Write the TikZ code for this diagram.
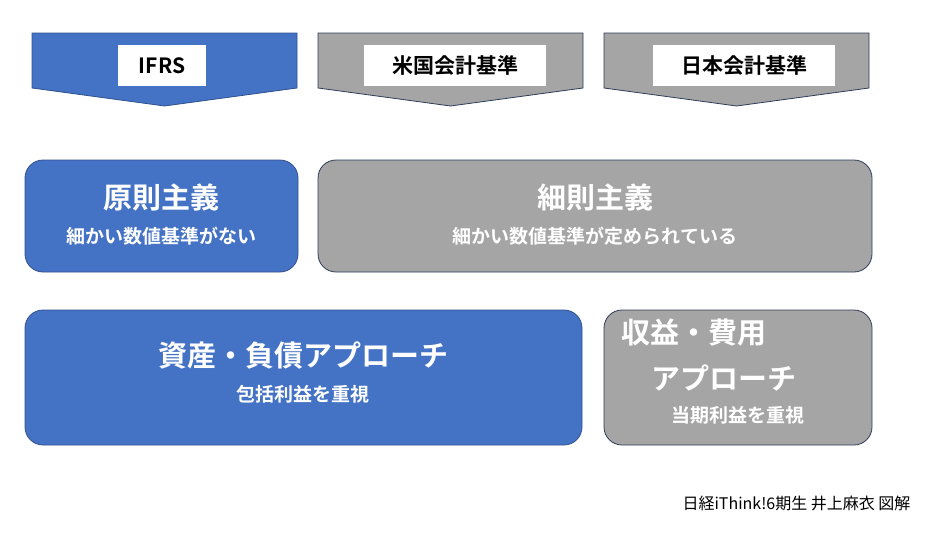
\documentclass[tikz,border=0pt]{standalone}
\usepackage{fontspec}
\setmainfont{Noto Sans CJK JP}
\newfontfamily\jpb{Noto Sans CJK JP Bold}
\begin{document}
\begin{tikzpicture}[x=1pt,y=-1pt,
  blu/.style={fill={rgb,255:red,68;green,114;blue,196},draw={rgb,255:red,47;green,82;blue,143},line width=0.8pt},
  gry/.style={fill={rgb,255:red,165;green,165;blue,165},draw={rgb,255:red,47;green,60;blue,90},line width=0.8pt},
  rbox/.style={rounded corners=18pt},
  lab/.style={fill=white,inner sep=0pt,font=\jpb\fontsize{21}{24}\selectfont,text=black},
  ttl/.style={font=\jpb\fontsize{29}{34}\selectfont,text=white},
  sub/.style={font=\jpb\fontsize{19}{22}\selectfont,text=white}]
\useasboundingbox (0,0) rectangle (943,533);
% chevrons
\foreach \x/\s in {32/blu,318/gry,604/gry}{
  \draw[\s] (\x,33) -- (\x+265,33) -- (\x+265,88) -- (\x+132.5,106) -- (\x,88) -- cycle;}
\node[lab,minimum width=88pt,minimum height=41pt] (l1) at (162,65.5) {IFRS};
\node[lab,minimum width=182pt,minimum height=41pt] (l2) at (455,65.5) {米国会計基準};
\node[lab,minimum width=182pt,minimum height=41pt] (l3) at (744,65.5) {日本会計基準};
% boxes
\draw[blu,rbox] (25,160) rectangle (298,272);
\node[ttl] (t1) at (161.5,197) {原則主義};
\node[sub] (s1) at (161.5,236) {細かい数値基準がない};
\draw[gry,rbox] (318,160) rectangle (872,272);
\node[ttl] (t2) at (595,197) {細則主義};
\node[sub] (s2) at (595,236) {細かい数値基準が定められている};
\draw[blu,rbox] (25,310) rectangle (582,445);
\node[ttl] (t3) at (303,356) {資産・負債アプローチ};
\node[sub] (s3) at (303,394) {包括利益を重視};
\draw[gry,rbox] (604,310) rectangle (872,445);
\node[ttl,anchor=west] (t4) at (618,333) {収益・費用};
\node[ttl,anchor=west] (t4b) at (648,378) {アプローチ};
\node[sub] (s4) at (738,415) {当期利益を重視};
\node[anchor=east,font=\fontsize{16}{19}\selectfont] (ft) at (914,503) {日経iThink!6期生 井上麻衣 図解};
\end{tikzpicture}
\end{document}
